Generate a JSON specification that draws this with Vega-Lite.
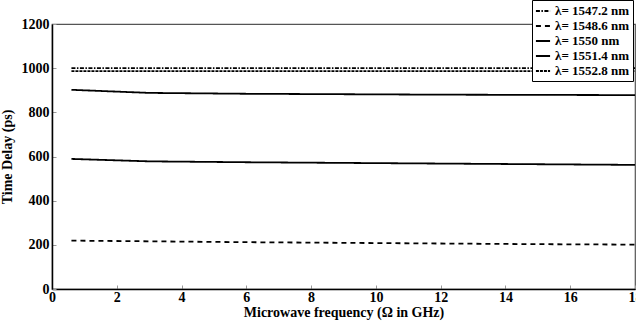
{
  "$schema": "https://vega.github.io/schema/vega-lite/v6.json",
  "width": 583,
  "height": 265,
  "autosize": {"type": "none"},
  "padding": {"left": 52, "top": 24, "right": 1, "bottom": 33},
  "background": "white",
  "config": {
    "font": "Liberation Serif",
    "view": {"stroke": "#555", "strokeWidth": 1.2},
    "axis": {"grid": false, "labelFont": "Liberation Serif", "titleFont": "Liberation Serif", "labelFontWeight": "bold", "titleFontWeight": "bold", "labelFontSize": 14, "titleFontSize": 14, "labelColor": "black", "titleColor": "black", "domainColor": "black", "domainWidth": 1.5, "tickColor": "#999", "tickSize": -4, "tickWidth": 1, "format": "d"}
  },
  "data": {"values": [
    {"f": 0.6, "delay": 1000, "s": "λ= 1547.2 nm"},
    {"f": 18, "delay": 1000, "s": "λ= 1547.2 nm"},
    {"f": 0.6, "delay": 219, "s": "λ= 1548.6 nm"},
    {"f": 3, "delay": 216, "s": "λ= 1548.6 nm"},
    {"f": 6, "delay": 212, "s": "λ= 1548.6 nm"},
    {"f": 9, "delay": 209, "s": "λ= 1548.6 nm"},
    {"f": 12, "delay": 206, "s": "λ= 1548.6 nm"},
    {"f": 15, "delay": 203, "s": "λ= 1548.6 nm"},
    {"f": 18, "delay": 201, "s": "λ= 1548.6 nm"},
    {"f": 0.6, "delay": 902, "s": "λ= 1550 nm"},
    {"f": 3, "delay": 888, "s": "λ= 1550 nm"},
    {"f": 6, "delay": 884, "s": "λ= 1550 nm"},
    {"f": 9, "delay": 882, "s": "λ= 1550 nm"},
    {"f": 12, "delay": 880, "s": "λ= 1550 nm"},
    {"f": 15, "delay": 879, "s": "λ= 1550 nm"},
    {"f": 18, "delay": 878, "s": "λ= 1550 nm"},
    {"f": 0.6, "delay": 589, "s": "λ= 1551.4 nm"},
    {"f": 3, "delay": 578, "s": "λ= 1551.4 nm"},
    {"f": 6, "delay": 574, "s": "λ= 1551.4 nm"},
    {"f": 9, "delay": 571, "s": "λ= 1551.4 nm"},
    {"f": 12, "delay": 568, "s": "λ= 1551.4 nm"},
    {"f": 15, "delay": 565, "s": "λ= 1551.4 nm"},
    {"f": 18, "delay": 562, "s": "λ= 1551.4 nm"},
    {"f": 0.6, "delay": 987, "s": "λ= 1552.8 nm"},
    {"f": 18, "delay": 987, "s": "λ= 1552.8 nm"}
  ]},
  "mark": {"type": "line", "color": "black", "strokeWidth": 1.8, "clip": true},
  "encoding": {
    "x": {"field": "f", "type": "quantitative", "title": "Microwave frequency (Ω in GHz)", "scale": {"domain": [0, 18], "nice": false}, "axis": {"values": [0, 2, 4, 6, 8, 10, 12, 14, 16, 18], "labelPadding": 5, "titlePadding": 1, "labelFlush": false}},
    "y": {"field": "delay", "type": "quantitative", "title": "Time Delay (ps)", "scale": {"domain": [0, 1200], "nice": false}, "axis": {"values": [0, 200, 400, 600, 800, 1000, 1200], "labelPadding": 7, "titlePadding": 7}},
    "strokeDash": {
      "field": "s", "type": "nominal",
      "scale": {"domain": ["λ= 1547.2 nm", "λ= 1548.6 nm", "λ= 1550 nm", "λ= 1551.4 nm", "λ= 1552.8 nm"], "range": [[4, 1.5, 1.5, 1.5], [5, 4], [1, 0], [1, 0], [3, 1]]},
      "legend": {
        "title": null, "orient": "none", "legendX": 480, "legendY": -24,
        "fillColor": "white", "strokeColor": "black", "padding": 3,
        "labelFont": "Liberation Serif", "labelFontWeight": "bold", "labelFontSize": 13, "labelColor": "black",
        "symbolType": "stroke", "symbolStrokeColor": "black", "symbolStrokeWidth": 1.8, "symbolSize": 200, "rowPadding": 0, "labelOffset": 4,
        "encode": {"symbols": {
          "enter": {"strokeDash": {"signal": "datum.label === 'λ= 1550 nm' ? [1, 2] : datum.label === 'λ= 1552.8 nm' ? [3, 2] : scale('strokeDash', datum.value)"}},
          "update": {"strokeDash": {"signal": "datum.label === 'λ= 1550 nm' ? [1, 2] : datum.label === 'λ= 1552.8 nm' ? [3, 2] : scale('strokeDash', datum.value)"}}
        }}
      }
    }
  }
}
